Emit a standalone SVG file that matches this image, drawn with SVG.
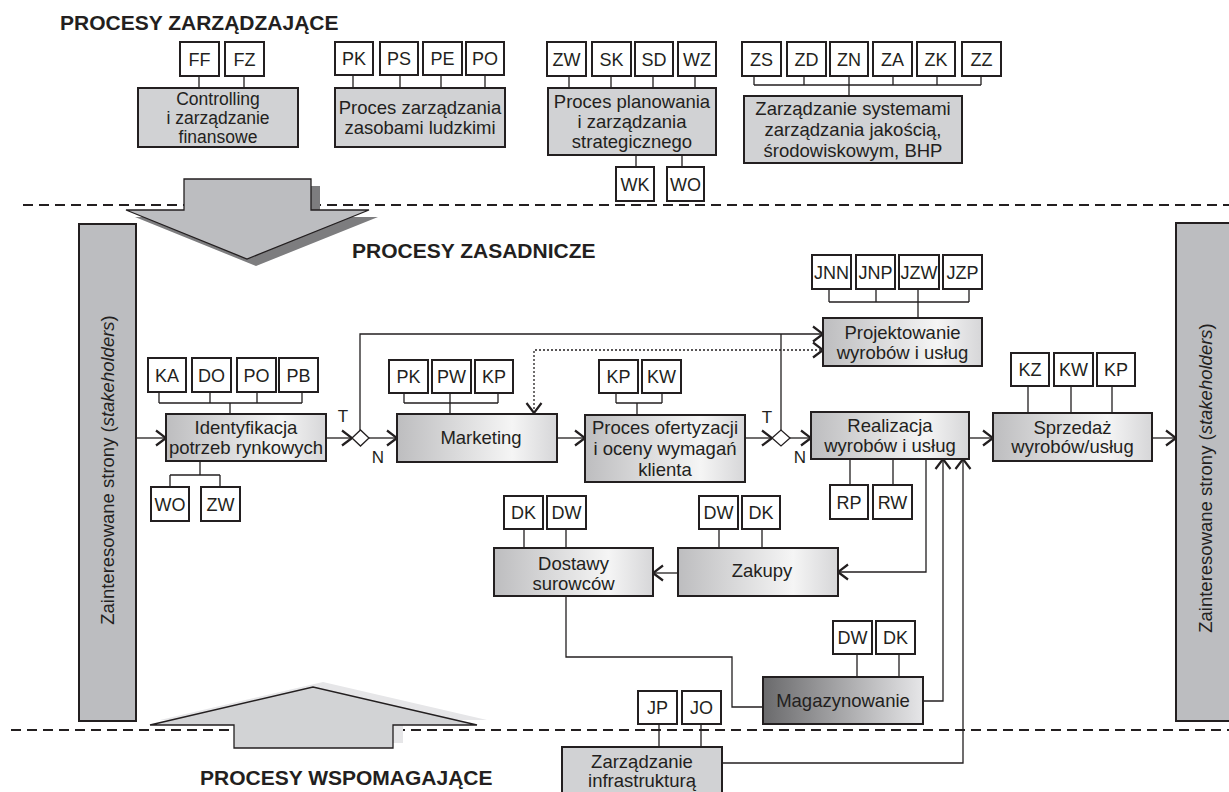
<svg xmlns="http://www.w3.org/2000/svg" width="1229" height="792" viewBox="0 0 1229 792">
<defs>
<linearGradient id="gp" x1="0" y1="0" x2="1" y2="0">
<stop offset="0" stop-color="#bdbdbf"/>
<stop offset="0.72" stop-color="#f5f5f5"/>
<stop offset="1" stop-color="#d6d6d8"/>
</linearGradient>
<linearGradient id="gm" x1="0" y1="0" x2="1" y2="0">
<stop offset="0" stop-color="#6a6a6c"/>
<stop offset="1" stop-color="#e6e6e8"/>
</linearGradient>
<marker id="ah" viewBox="0 0 12 18" markerWidth="12" markerHeight="18" refX="11" refY="9" orient="auto-start-reverse" markerUnits="userSpaceOnUse">
<path d="M1,1.5 L11,9 L1,16.5" fill="none" stroke="#231f20" stroke-width="2.2"/>
</marker>
</defs>
<style>
text{font-family:"Liberation Sans",Arial,sans-serif;fill:#231f20;}
.t{font-size:18.5px;text-anchor:middle;}
.s{font-size:17.5px;text-anchor:middle;}
.c{font-size:18px;text-anchor:middle;}
.h{font-size:21px;font-weight:bold;}
.l{font-size:17px;text-anchor:middle;}
.code{fill:#fff;stroke:#231f20;stroke-width:2;}
.flat{fill:#d1d2d4;stroke:#231f20;stroke-width:2;}
.grad{fill:url(#gp);stroke:#231f20;stroke-width:2;}
.bar{fill:#bcbdc0;stroke:#231f20;stroke-width:2;}
.cn{fill:none;stroke:#231f20;stroke-width:1.3;}
.ar{fill:none;stroke:#231f20;stroke-width:1.3;marker-end:url(#ah);}
.dash{fill:none;stroke:#231f20;stroke-width:2;stroke-dasharray:10 6;}
</style>
<rect width="1229" height="792" fill="#fff"/>

<g id="separators">
<line class="dash" x1="23" y1="205" x2="1229" y2="205"/>
<line class="dash" x1="11" y1="730" x2="1229" y2="730"/>
</g>

<g id="arrow-down">
<polygon points="193,186 320,186 320,217 378,217 256,266 135,217 193,217" fill="#7d7d7f"/>
<polygon points="184,179 311,179 311,210 369,210 247,259 126,210 184,210" fill="#bcbdc0" stroke="#231f20" stroke-width="1.3"/>
</g>
<g id="arrow-up">
<polygon points="160,720 323,682 487,720 403,720 403,743 244,743 244,720" fill="#e6e6e8"/>
<polygon points="150,725 313,687 477,725 393,725 393,748 234,748 234,725" fill="#d2d3d5" stroke="#231f20" stroke-width="1.3"/>
</g>

<g id="titles">
<text class="h" x="60" y="30">PROCESY ZARZĄDZAJĄCE</text>
<text class="h" x="352" y="258">PROCESY ZASADNICZE</text>
<text class="h" x="200" y="785">PROCESY WSPOMAGAJĄCE</text>
</g>

<g id="connectors">
<path class="cn" d="M199,76V88M244,76V88"/>
<path class="cn" d="M353,75V88M400,75V88M441,75V88M485,75V88"/>
<path class="cn" d="M569,76V88M611,76V88M653,76V88M695,76V88"/>
<path class="cn" d="M636,155V167M682,155V167"/>
<path class="cn" d="M754,76V85M804,76V85M849,76V85M893,76V85M937,76V85M981,76V85M754,85H981M849,85V96"/>
<path class="cn" d="M159,392V403M210,392V403M257,392V403M302,392V403M159,403H302M230,403V414"/>
<path class="cn" d="M200,461V475M170,475H220M170,475V487M220,475V487"/>
<path class="cn" d="M404,393V403M450,393V403M498,393V403M404,403H498M450,403V414"/>
<path class="cn" d="M616,393V403M662,393V403M616,403H662M637,403V415"/>
<path class="cn" d="M829,289V302M876,289V302M918,289V302M969,289V302M829,302H969M918,302V318"/>
<path class="cn" d="M1028,386V413M1071,386V413M1112,386V413"/>
<path class="cn" d="M850,459V485M893,459V485"/>
<path class="cn" d="M719,529V548M762,529V548"/>
<path class="cn" d="M524,529V548M566,529V548"/>
<path class="cn" d="M857,654V677M899,654V677"/>
<path class="cn" d="M659,724V747M701,724V747"/>
<path class="cn" d="M566,596V657H732V707H763"/>
<path class="ar" d="M136,438H166"/>
<path class="ar" d="M326,438H352"/>
<path class="ar" d="M369,438H397"/>
<path class="ar" d="M557,438H585"/>
<path class="ar" d="M745,438H772"/>
<path class="ar" d="M790,438H811"/>
<path class="ar" d="M969,438H993"/>
<path class="ar" d="M1152,438H1176"/>
<path class="ar" d="M360,430V334H823"/>
<path class="cn" d="M781,430V334"/>
<path d="M534,413V350H823" fill="none" stroke="#231f20" stroke-width="1.3" stroke-dasharray="2 2" marker-start="url(#ah)" marker-end="url(#ah)"/>
<path class="ar" d="M926,459V572H838"/>
<path class="ar" d="M923,701H943V459"/>
<path class="ar" d="M722,763H963V459"/>
<path class="ar" d="M678,573H653"/>
</g>

<g id="decision-1">
<polygon points="352,438 360.5,430 369,438 360.5,446" fill="#fff" stroke="#231f20" stroke-width="1.3"/>
<text class="l" x="343" y="422">T</text>
<text class="l" x="378" y="463">N</text>
</g>
<g id="decision-2">
<polygon points="772,438 781,430 790,438 781,446" fill="#fff" stroke="#231f20" stroke-width="1.3"/>
<text class="l" x="767" y="423">T</text>
<text class="l" x="800" y="463">N</text>
</g>

<g id="controlling">
<rect class="code" x="180" y="42" width="39" height="34"/><text class="c" x="199.5" y="65.5">FF</text>
<rect class="code" x="225" y="42" width="39" height="34"/><text class="c" x="244.5" y="65.5">FZ</text>
<rect class="flat" x="138" y="88" width="160" height="59"/>
<text class="s" x="218" y="105">Controlling</text>
<text class="s" x="218" y="124">i zarządzanie</text>
<text class="s" x="218" y="143">finansowe</text>
</g>

<g id="zasoby-ludzkie">
<rect class="code" x="335" y="42" width="38" height="33"/><text class="c" x="354" y="65">PK</text>
<rect class="code" x="380" y="42" width="38" height="33"/><text class="c" x="399" y="65">PS</text>
<rect class="code" x="423" y="42" width="39" height="33"/><text class="c" x="442.5" y="65">PE</text>
<rect class="code" x="466" y="42" width="38" height="33"/><text class="c" x="485" y="65">PO</text>
<rect class="flat" x="335" y="88" width="170" height="59"/>
<text class="t" x="420" y="114">Proces zarządzania</text>
<text class="t" x="420" y="134">zasobami ludzkimi</text>
</g>

<g id="planowanie">
<rect class="code" x="547" y="42" width="39" height="34"/><text class="c" x="566.5" y="65.5">ZW</text>
<rect class="code" x="592" y="42" width="39" height="34"/><text class="c" x="611.5" y="65.5">SK</text>
<rect class="code" x="635" y="42" width="38" height="34"/><text class="c" x="654" y="65.5">SD</text>
<rect class="code" x="678" y="42" width="38" height="34"/><text class="c" x="697" y="65.5">WZ</text>
<rect class="flat" x="548" y="88" width="168" height="67"/>
<text class="t" x="632" y="108">Proces planowania</text>
<text class="t" x="632" y="128">i zarządzania</text>
<text class="t" x="632" y="148">strategicznego</text>
<rect class="code" x="616" y="167" width="38" height="34"/><text class="c" x="635" y="190.5">WK</text>
<rect class="code" x="667" y="167" width="37" height="34"/><text class="c" x="685.5" y="190.5">WO</text>
</g>

<g id="systemy-zarzadzania">
<rect class="code" x="742" y="42" width="39" height="34"/><text class="c" x="761.5" y="65.5">ZS</text>
<rect class="code" x="787" y="42" width="39" height="34"/><text class="c" x="806.5" y="65.5">ZD</text>
<rect class="code" x="830" y="42" width="38" height="34"/><text class="c" x="849" y="65.5">ZN</text>
<rect class="code" x="873" y="42" width="39" height="34"/><text class="c" x="892.5" y="65.5">ZA</text>
<rect class="code" x="917" y="42" width="38" height="34"/><text class="c" x="936" y="65.5">ZK</text>
<rect class="code" x="962" y="42" width="39" height="34"/><text class="c" x="981.5" y="65.5">ZZ</text>
<rect class="flat" x="744" y="96" width="218" height="67"/>
<text class="t" x="853" y="115">Zarządzanie systemami</text>
<text class="t" x="853" y="136">zarządzania jakością,</text>
<text class="t" x="853" y="157">środowiskowym, BHP</text>
</g>

<g id="stakeholders-left">
<rect class="bar" x="79" y="224" width="57" height="497"/>
<text class="t" transform="translate(114,470) rotate(-90)">Zainteresowane strony (<tspan font-style="italic">stakeholders</tspan>)</text>
</g>
<g id="stakeholders-right">
<rect class="bar" x="1176" y="223" width="62" height="498"/>
<text class="t" transform="translate(1212,478) rotate(-90)">Zainteresowane strony (<tspan font-style="italic">stakeholders</tspan>)</text>
</g>

<g id="identyfikacja">
<rect class="code" x="148" y="358" width="38" height="34"/><text class="c" x="167" y="381.5">KA</text>
<rect class="code" x="192" y="358" width="39" height="34"/><text class="c" x="211.5" y="381.5">DO</text>
<rect class="code" x="237" y="358" width="39" height="34"/><text class="c" x="256.5" y="381.5">PO</text>
<rect class="code" x="279" y="358" width="39" height="34"/><text class="c" x="298.5" y="381.5">PB</text>
<rect class="grad" x="166" y="414" width="160" height="47"/>
<text class="t" x="246" y="433.5">Identyfikacja</text>
<text class="t" x="246" y="453.5">potrzeb rynkowych</text>
<rect class="code" x="151" y="487" width="38" height="34"/><text class="c" x="170" y="510.5">WO</text>
<rect class="code" x="201" y="487" width="39" height="34"/><text class="c" x="220.5" y="510.5">ZW</text>
</g>

<g id="marketing">
<rect class="code" x="389" y="360" width="39" height="33"/><text class="c" x="408.5" y="383">PK</text>
<rect class="code" x="432" y="360" width="39" height="33"/><text class="c" x="451.5" y="383">PW</text>
<rect class="code" x="475" y="360" width="38" height="33"/><text class="c" x="494" y="383">KP</text>
<rect class="grad" x="397" y="414" width="160" height="48"/>
<text class="t" x="481" y="443.5">Marketing</text>
</g>

<g id="ofertyzacja">
<rect class="code" x="599" y="360" width="39" height="33"/><text class="c" x="618.5" y="383">KP</text>
<rect class="code" x="642" y="360" width="39" height="33"/><text class="c" x="661.5" y="383">KW</text>
<rect class="grad" x="585" y="415" width="160" height="67"/>
<text class="t" x="665" y="434">Proces ofertyzacji</text>
<text class="t" x="665" y="455">i oceny wymagań</text>
<text class="t" x="665" y="476">klienta</text>
</g>

<g id="projektowanie">
<rect class="code" x="812" y="255" width="39" height="34"/><text class="c" x="831.5" y="278.5">JNN</text>
<rect class="code" x="856" y="255" width="39" height="34"/><text class="c" x="875.5" y="278.5">JNP</text>
<rect class="code" x="899" y="255" width="40" height="34"/><text class="c" x="919" y="278.5">JZW</text>
<rect class="code" x="943" y="255" width="39" height="34"/><text class="c" x="962.5" y="278.5">JZP</text>
<rect class="grad" x="823" y="318" width="159" height="48"/>
<text class="t" x="902.5" y="338.5">Projektowanie</text>
<text class="t" x="902.5" y="358.5">wyrobów i usług</text>
</g>

<g id="realizacja">
<rect class="grad" x="811" y="412" width="158" height="47"/>
<text class="t" x="890" y="432">Realizacja</text>
<text class="t" x="890" y="452">wyrobów i usług</text>
<rect class="code" x="830" y="485" width="38" height="34"/><text class="c" x="849" y="508.5">RP</text>
<rect class="code" x="873" y="485" width="39" height="34"/><text class="c" x="892.5" y="508.5">RW</text>
</g>

<g id="sprzedaz">
<rect class="code" x="1011" y="353" width="38" height="33"/><text class="c" x="1030" y="376">KZ</text>
<rect class="code" x="1054" y="353" width="39" height="33"/><text class="c" x="1073.5" y="376">KW</text>
<rect class="code" x="1097" y="353" width="38" height="33"/><text class="c" x="1116" y="376">KP</text>
<rect class="grad" x="993" y="413" width="159" height="48"/>
<text class="t" x="1072.5" y="433.5">Sprzedaż</text>
<text class="t" x="1072.5" y="452.5">wyrobów/usług</text>
</g>

<g id="dostawy">
<rect class="code" x="504" y="496" width="39" height="33"/><text class="c" x="523.5" y="519">DK</text>
<rect class="code" x="547" y="496" width="39" height="33"/><text class="c" x="566.5" y="519">DW</text>
<rect class="grad" x="494" y="548" width="159" height="48"/>
<text class="t" x="573.5" y="570">Dostawy</text>
<text class="t" x="573.5" y="590">surowców</text>
</g>

<g id="zakupy">
<rect class="code" x="699" y="496" width="39" height="33"/><text class="c" x="718.5" y="519">DW</text>
<rect class="code" x="742" y="496" width="38" height="33"/><text class="c" x="761" y="519">DK</text>
<rect class="grad" x="678" y="548" width="160" height="48"/>
<text class="t" x="762" y="577">Zakupy</text>
</g>

<g id="magazynowanie">
<rect class="code" x="833" y="621" width="39" height="33"/><text class="c" x="852.5" y="644">DW</text>
<rect class="code" x="876" y="621" width="39" height="33"/><text class="c" x="895.5" y="644">DK</text>
<rect x="763" y="677" width="160" height="47" fill="url(#gm)" stroke="#231f20" stroke-width="2"/>
<text class="t" x="843" y="707">Magazynowanie</text>
</g>

<g id="infrastruktura">
<rect class="code" x="638" y="691" width="39" height="33"/><text class="c" x="657.5" y="714">JP</text>
<rect class="code" x="682" y="691" width="39" height="33"/><text class="c" x="701.5" y="714">JO</text>
<rect class="flat" x="562" y="747" width="160" height="52"/>
<text class="t" x="642" y="768">Zarządzanie</text>
<text class="t" x="642" y="787">infrastrukturą</text>
</g>
</svg>
